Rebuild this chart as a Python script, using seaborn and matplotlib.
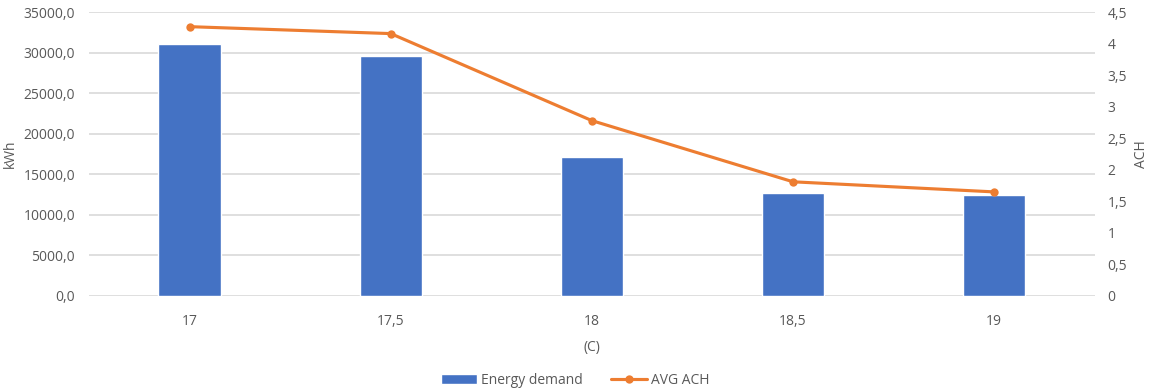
import numpy as np
import matplotlib
matplotlib.use("Agg")
import matplotlib.pyplot as plt
from matplotlib.ticker import FuncFormatter, MultipleLocator
from matplotlib.patches import Patch
from matplotlib.lines import Line2D
import seaborn as sns
import pandas as pd

# data
temps = ["17", "17,5", "18", "18,5", "19"]
energy = [31100, 29600, 17100, 12650, 12400]
ach = [4.27, 4.16, 2.78, 1.81, 1.65]

bar_color = "#4472C4"
line_color = "#ED7D31"
text_color = "#595959"
grid_color = "#D9D9D9"

sns.set_style("white")
plt.rcParams["font.family"] = ["Open Sans", "DejaVu Sans"]

df = pd.DataFrame({"temp": temps, "energy": energy, "ach": ach})

fig, ax = plt.subplots(figsize=(11.5, 3.92), dpi=100)
fig.subplots_adjust(left=0.0774, right=0.952, top=0.969, bottom=0.245)

sns.barplot(data=df, x="temp", y="energy", color=bar_color, width=0.31,
            saturation=1, ax=ax, zorder=2)
ax.set_xlim(-0.5, len(temps) - 0.5)
ax.set_ylim(0, 35000)
ax.yaxis.set_major_locator(MultipleLocator(5000))
ax.yaxis.set_major_formatter(FuncFormatter(lambda v, p: f"{v:.1f}".replace(".", ",")))
ax.grid(axis="y", color=grid_color, linewidth=1.2, zorder=0)
ax.set_axisbelow(True)
for s in ax.spines.values():
    s.set_visible(False)
ax.tick_params(axis="both", length=0, colors=text_color, labelsize=10)
ax.tick_params(axis="y", pad=10)
ax.tick_params(axis="x", pad=13)
ax.set_xlabel("(C)", color=text_color, fontsize=10, labelpad=8)
ax.set_ylabel("kWh", color=text_color, fontsize=10, labelpad=4)

ax2 = ax.twinx()
sns.lineplot(x=np.arange(len(temps)), y=ach, ax=ax2, color=line_color,
             linewidth=2.25, marker="o", markersize=6, markeredgewidth=0)
ax2.set_ylim(0, 4.5)
ax2.yaxis.set_major_locator(MultipleLocator(0.5))
ax2.yaxis.set_major_formatter(FuncFormatter(lambda v, p: f"{v:g}".replace(".", ",")))
for s in ax2.spines.values():
    s.set_visible(False)
ax2.tick_params(axis="y", length=0, colors=text_color, labelsize=10, pad=9)
ax2.set_ylabel("ACH", color=text_color, fontsize=10, labelpad=5)
ax2.grid(False)

handles = [Patch(facecolor=bar_color, label="Energy demand"),
           Line2D([], [], color=line_color, linewidth=2.25, marker="o",
                  markersize=6, markeredgewidth=0, label="AVG ACH")]
fig.legend(handles=handles, loc="center", bbox_to_anchor=(0.5, 0.03), ncol=2,
           frameon=False, fontsize=10, labelcolor=text_color,
           handlelength=2.6, handletextpad=0.3, columnspacing=2.0)

plt.savefig("out.png", dpi=100)
